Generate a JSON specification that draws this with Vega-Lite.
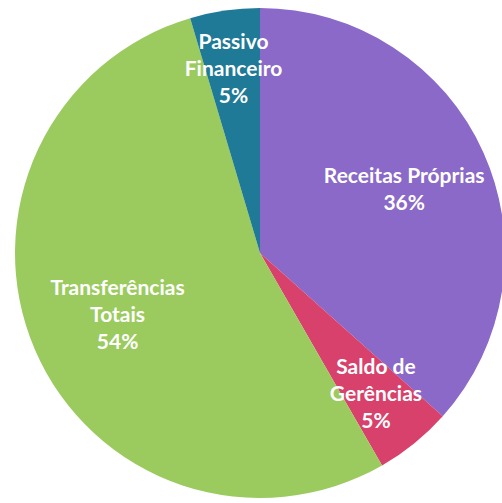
{
  "$schema": "https://vega.github.io/schema/vega-lite/v6.json",
  "width": 480,
  "height": 500,
  "padding": {"left": 20, "right": 2, "top": 3, "bottom": 0},
  "autosize": {"type": "none"},
  "background": "white",
  "view": {"stroke": null},
  "data": {
    "values": [
      {"categoria": "Receitas Próprias", "valor": 36.6, "ordem": 1, "rotulo": ["Receitas Próprias", "36%"]},
      {"categoria": "Saldo de Gerências", "valor": 5.1, "ordem": 2, "rotulo": ["Saldo de", "Gerências", "5%"]},
      {"categoria": "Transferências Totais", "valor": 53.7, "ordem": 3, "rotulo": ["Transferências", "Totais", "54%"]},
      {"categoria": "Passivo Financeiro", "valor": 4.6, "ordem": 4, "rotulo": ["Passivo", "Financeiro", "5%"]}
    ]
  },
  "encoding": {
    "theta": {"field": "valor", "type": "quantitative", "stack": true},
    "order": {"field": "ordem", "type": "quantitative"},
    "color": {
      "field": "categoria",
      "type": "nominal",
      "legend": null,
      "scale": {
        "domain": ["Receitas Próprias", "Saldo de Gerências", "Transferências Totais", "Passivo Financeiro"],
        "range": ["#8A69C8", "#D8416B", "#9BCB5E", "#1E7A96"]
      }
    }
  },
  "layer": [
    {"mark": {"type": "arc", "radius": 245}},
    {
      "mark": {"type": "text", "radius": 184, "dy": -28, "font": "Lato", "fontWeight": "bold", "fontSize": 21, "lineHeight": 27, "align": "center", "baseline": "middle"},
      "encoding": {
        "text": {"condition": {"test": "datum.categoria === 'Passivo Financeiro' || datum.categoria === 'Saldo de Gerências'", "field": "rotulo"}, "value": ""},
        "color": {"value": "white"}
      }
    },
    {
      "mark": {"type": "text", "radius": 155, "dy": -25, "font": "Lato", "fontWeight": "bold", "fontSize": 21, "lineHeight": 27, "align": "center", "baseline": "middle"},
      "encoding": {
        "text": {"condition": {"test": "datum.categoria === 'Transferências Totais'", "field": "rotulo"}, "value": ""},
        "color": {"value": "white"}
      }
    },
    {
      "mark": {"type": "text", "radius": 158, "dy": -11, "font": "Lato", "fontWeight": "bold", "fontSize": 21, "lineHeight": 27, "align": "center", "baseline": "middle"},
      "encoding": {
        "text": {"condition": {"test": "datum.categoria === 'Receitas Próprias'", "field": "rotulo"}, "value": ""},
        "color": {"value": "white"}
      }
    }
  ]
}
